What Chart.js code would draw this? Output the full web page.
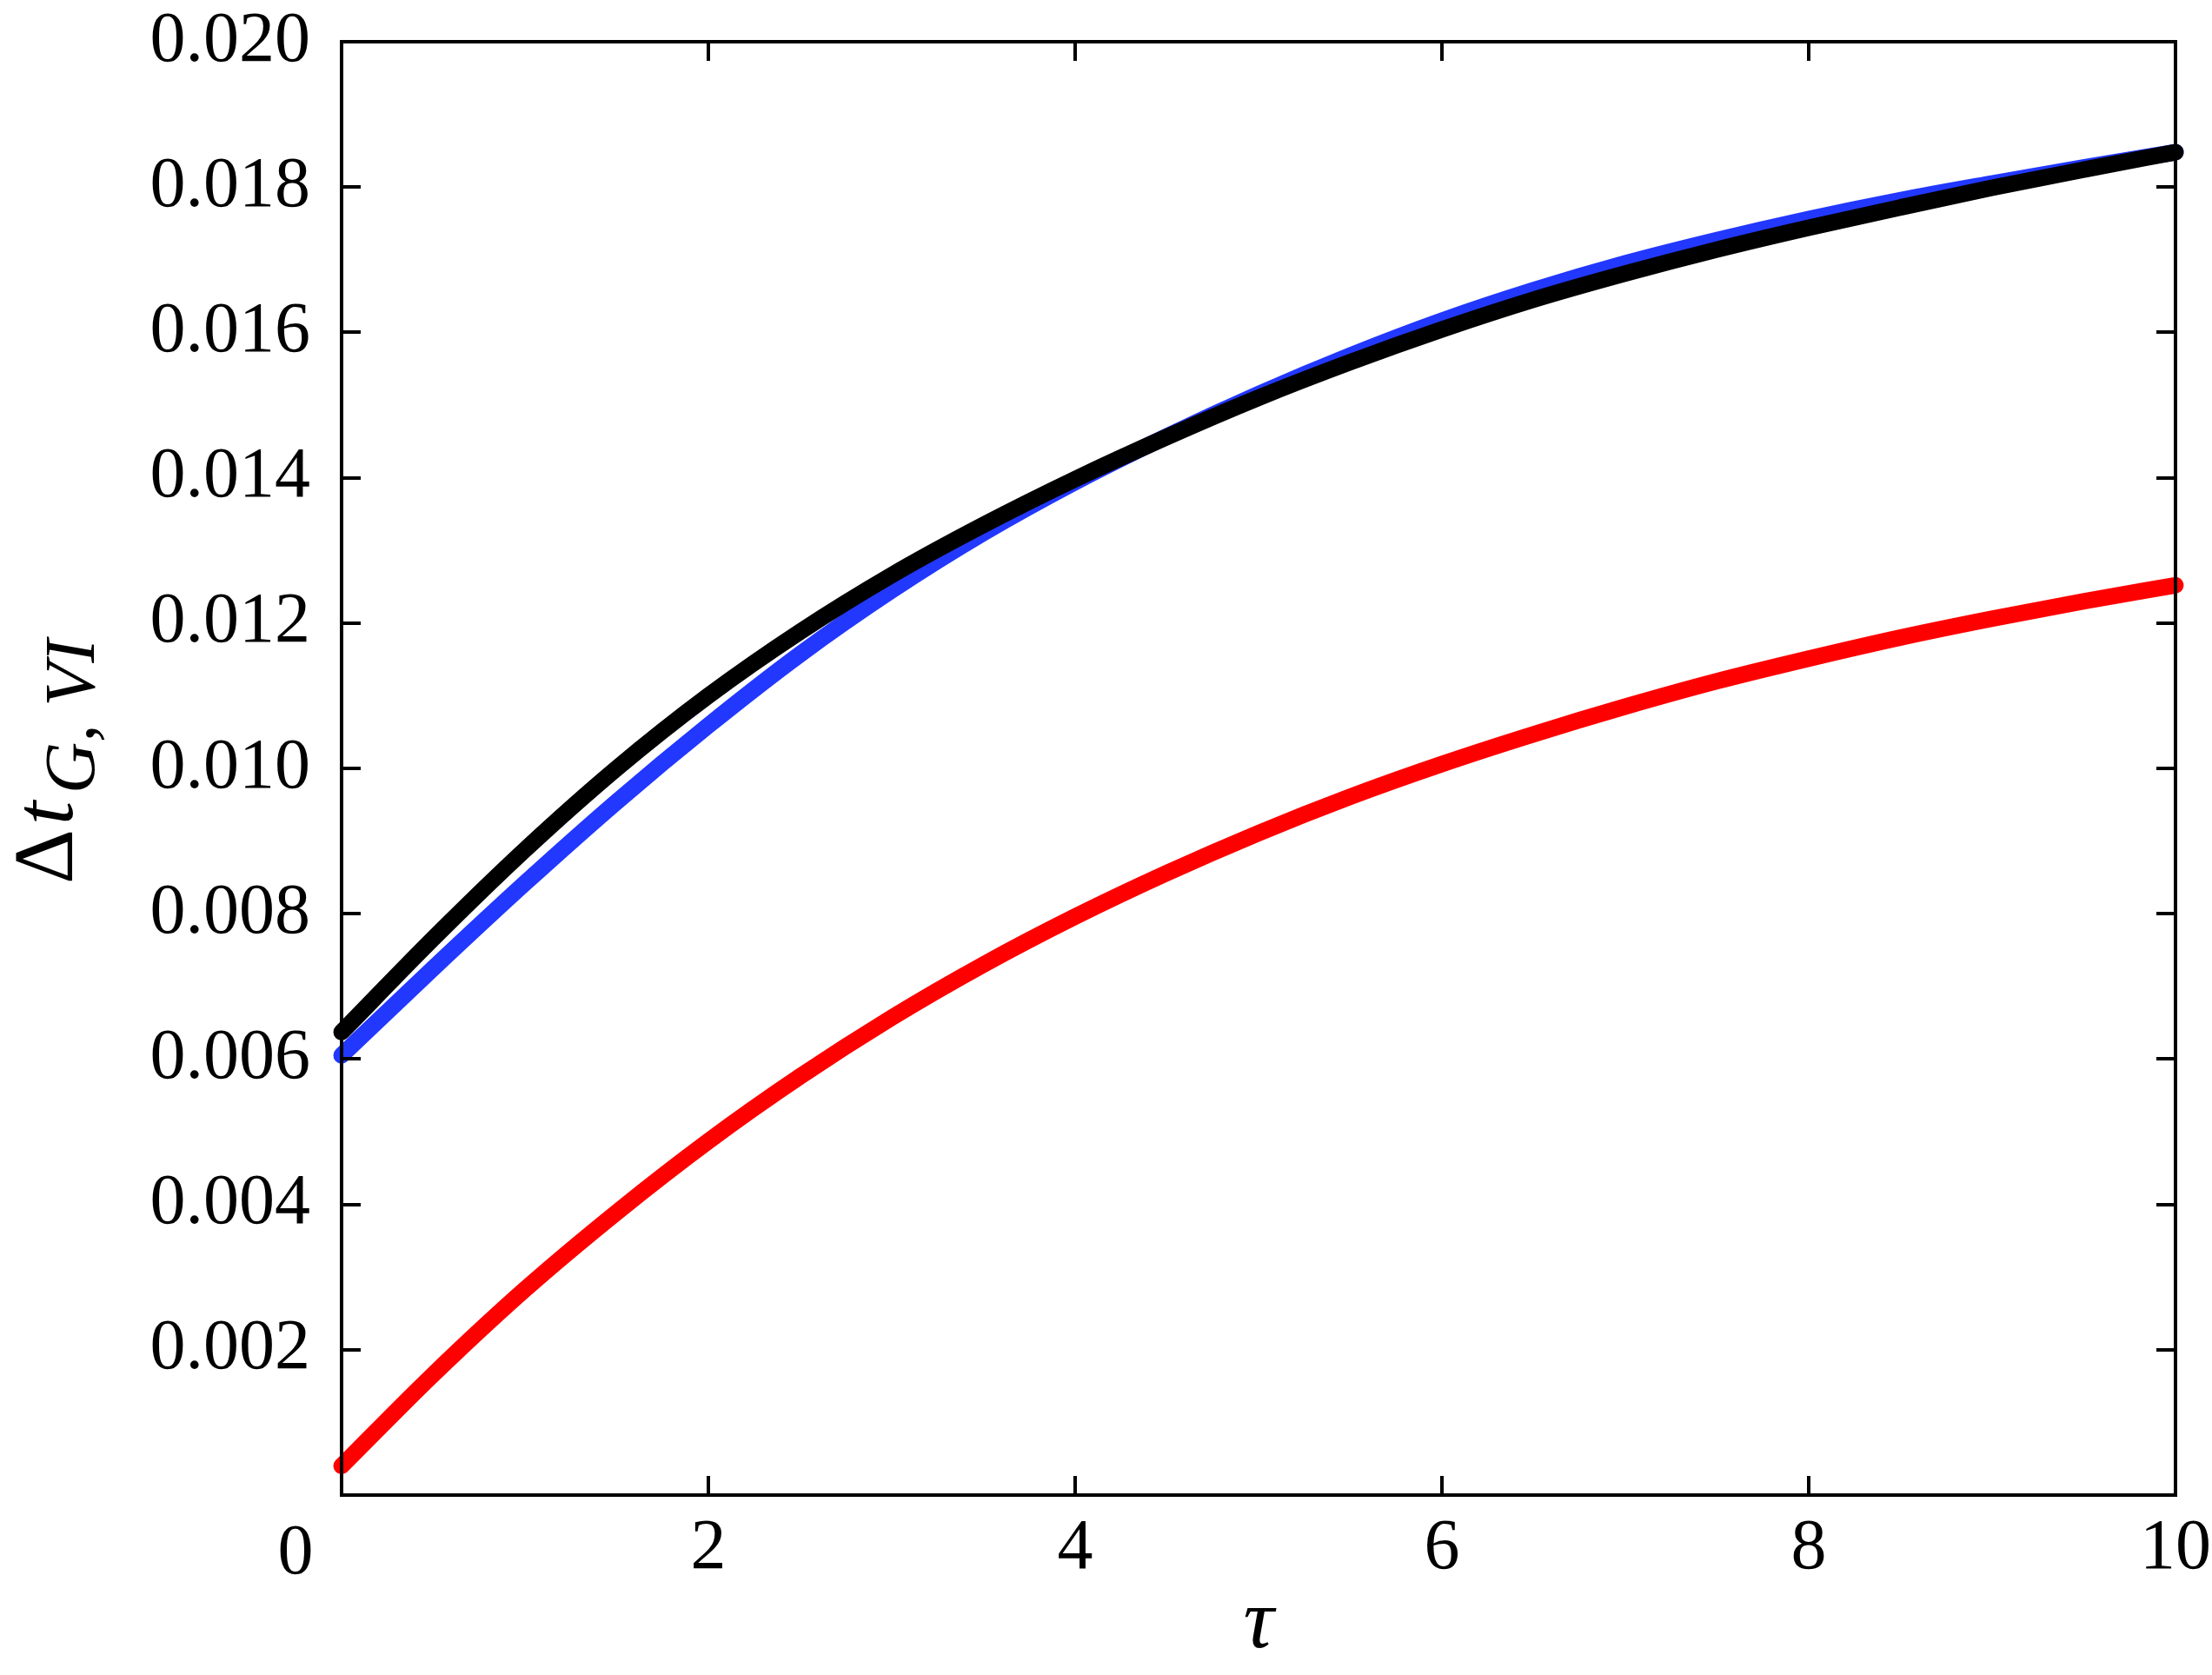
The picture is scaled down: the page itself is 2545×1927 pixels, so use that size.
<!DOCTYPE html>
<html>
<head>
<meta charset="utf-8">
<script src="https://cdn.jsdelivr.net/npm/chart.js@4/dist/chart.umd.min.js"></script>
<style>
  body { margin: 0; background: #fff; }
  #wrap { width: 2545px; height: 1927px; }
</style>
</head>
<body>
<div id="wrap"><canvas id="chart" width="2545" height="1927"></canvas></div>
<script>
// tau values (x axis)
const tau = [0, 0.5, 1, 1.5, 2, 2.5, 3, 3.5, 4, 4.5, 5, 5.5, 6, 6.5, 7, 7.5, 8, 8.5, 9, 9.5, 10];

// Series values
const blackSeries = [0.00637, 0.00766, 0.00888, 0.01000, 0.01100, 0.01188, 0.01266, 0.01335, 0.01398, 0.01456,
  0.01510, 0.01559, 0.01604, 0.01645, 0.01681, 0.01714, 0.01744, 0.01772, 0.01799, 0.01824, 0.01848];
const blueSeries = [0.00605, 0.00725, 0.00842, 0.00954, 0.01059, 0.01157, 0.01245, 0.01324, 0.01394, 0.01457,
  0.01515, 0.01568, 0.01616, 0.01658, 0.01695, 0.01727, 0.01756, 0.01782, 0.01805, 0.01827, 0.01848];
const redSeries = [0.00040, 0.00166, 0.00283, 0.00389, 0.00487, 0.00576, 0.00657, 0.00730, 0.00796, 0.00856,
  0.00911, 0.00961, 0.01006, 0.01047, 0.01085, 0.01120, 0.01151, 0.01180, 0.01206, 0.01230, 0.01252];

// Tick values
const xTicks = [0, 2, 4, 6, 8, 10];
const yTicks = [0, 0.002, 0.004, 0.006, 0.008, 0.010, 0.012, 0.014, 0.016, 0.018, 0.020];

const FONT = "'Liberation Serif', 'Times New Roman', serif";

const toPoints = (ys) => tau.map((t, i) => ({ x: t, y: ys[i] }));

const lineStyle = {
  borderWidth: 19,
  pointRadius: 0,
  cubicInterpolationMode: "monotone",
  borderCapStyle: "round",
  borderJoinStyle: "round",
  fill: false,
  clip: 14,
};

// frame, inward ticks, axis titles and the shifted "0" label
const framePlugin = {
  id: "frame",
  afterDraw(chart) {
    const ctx = chart.ctx;
    const a = chart.chartArea;
    const xs = chart.scales.x;
    const ys = chart.scales.y;
    ctx.save();
    ctx.strokeStyle = "#000";
    ctx.lineWidth = 4;
    ctx.strokeRect(a.left, a.top, a.right - a.left, a.bottom - a.top);

    ctx.beginPath();
    yTicks.slice(1, -1).forEach((v) => {
      const py = Math.round(ys.getPixelForValue(v));
      ctx.moveTo(a.left, py);
      ctx.lineTo(a.left + 22, py);
      ctx.moveTo(a.right, py);
      ctx.lineTo(a.right - 22, py);
    });
    xTicks.slice(1, -1).forEach((v) => {
      const px = Math.round(xs.getPixelForValue(v));
      ctx.moveTo(px, a.bottom);
      ctx.lineTo(px, a.bottom - 22);
      ctx.moveTo(px, a.top);
      ctx.lineTo(px, a.top + 22);
    });
    ctx.stroke();

    ctx.fillStyle = "#000";
    // x tick "0" sits left of the axis
    ctx.font = "82px " + FONT;
    ctx.textAlign = "center";
    ctx.textBaseline = "alphabetic";
    ctx.fillText("0", xs.getPixelForValue(0) - 53, a.bottom + 90);

    // x axis title
    ctx.font = "italic 98px " + FONT;
    ctx.fillText("\u03C4", (a.left + a.right) / 2, 1895);

    // y axis title: Δt_{G, VI}
    ctx.translate(83, 1017);
    ctx.rotate(-Math.PI / 2);
    ctx.textAlign = "left";
    ctx.font = "98px " + FONT;
    ctx.fillText("\u0394", 0, 0);
    ctx.font = "italic 98px " + FONT;
    ctx.fillText("t", 68, 0);
    ctx.font = "italic 82px " + FONT;
    ctx.fillText("G, VI", 104, 25);
    ctx.restore();
  },
};

const chart = new Chart(document.getElementById("chart"), {
  type: "line",
  data: {
    datasets: [
      { label: "black", data: toPoints(blackSeries), borderColor: "#000000", ...lineStyle },
      { label: "blue", data: toPoints(blueSeries), borderColor: "#2238ff", ...lineStyle },
      { label: "red", data: toPoints(redSeries), borderColor: "#ff0000", ...lineStyle },
    ],
  },
  options: {
    responsive: false,
    animation: false,
    layout: { padding: { left: 0, right: 42, top: 48, bottom: 0 } },
    plugins: {
      legend: { display: false },
      tooltip: { enabled: false },
    },
    scales: {
      x: {
        type: "linear",
        min: 0,
        max: 10,
        afterBuildTicks: (scale) => { scale.ticks = xTicks.map((v) => ({ value: v })); },
        afterFit: (scale) => {
          scale.height = 207;
          scale.paddingLeft = 0;
          scale.paddingRight = 0;
        },
        grid: { display: false, drawTicks: false },
        border: { display: false },
        ticks: {
          padding: 21,
          color: "#000",
          font: { family: FONT, size: 82, lineHeight: 1 },
          maxRotation: 0,
          autoSkip: false,
          callback: (v) => (v === 0 ? "" : String(v)),
        },
      },
      y: {
        type: "linear",
        min: 0,
        max: 0.02,
        afterBuildTicks: (scale) => { scale.ticks = yTicks.map((v) => ({ value: v })); },
        afterFit: (scale) => {
          scale.width = 393;
          scale.paddingTop = 0;
          scale.paddingBottom = 0;
        },
        grid: { display: false, drawTicks: false },
        border: { display: false },
        ticks: {
          padding: 36,
          color: "#000",
          font: { family: FONT, size: 82, lineHeight: 1 },
          autoSkip: false,
          callback: (v) => (v === 0 ? "" : v.toFixed(3)),
        },
      },
    },
  },
  plugins: [framePlugin],
});
</script>
</body>
</html>
